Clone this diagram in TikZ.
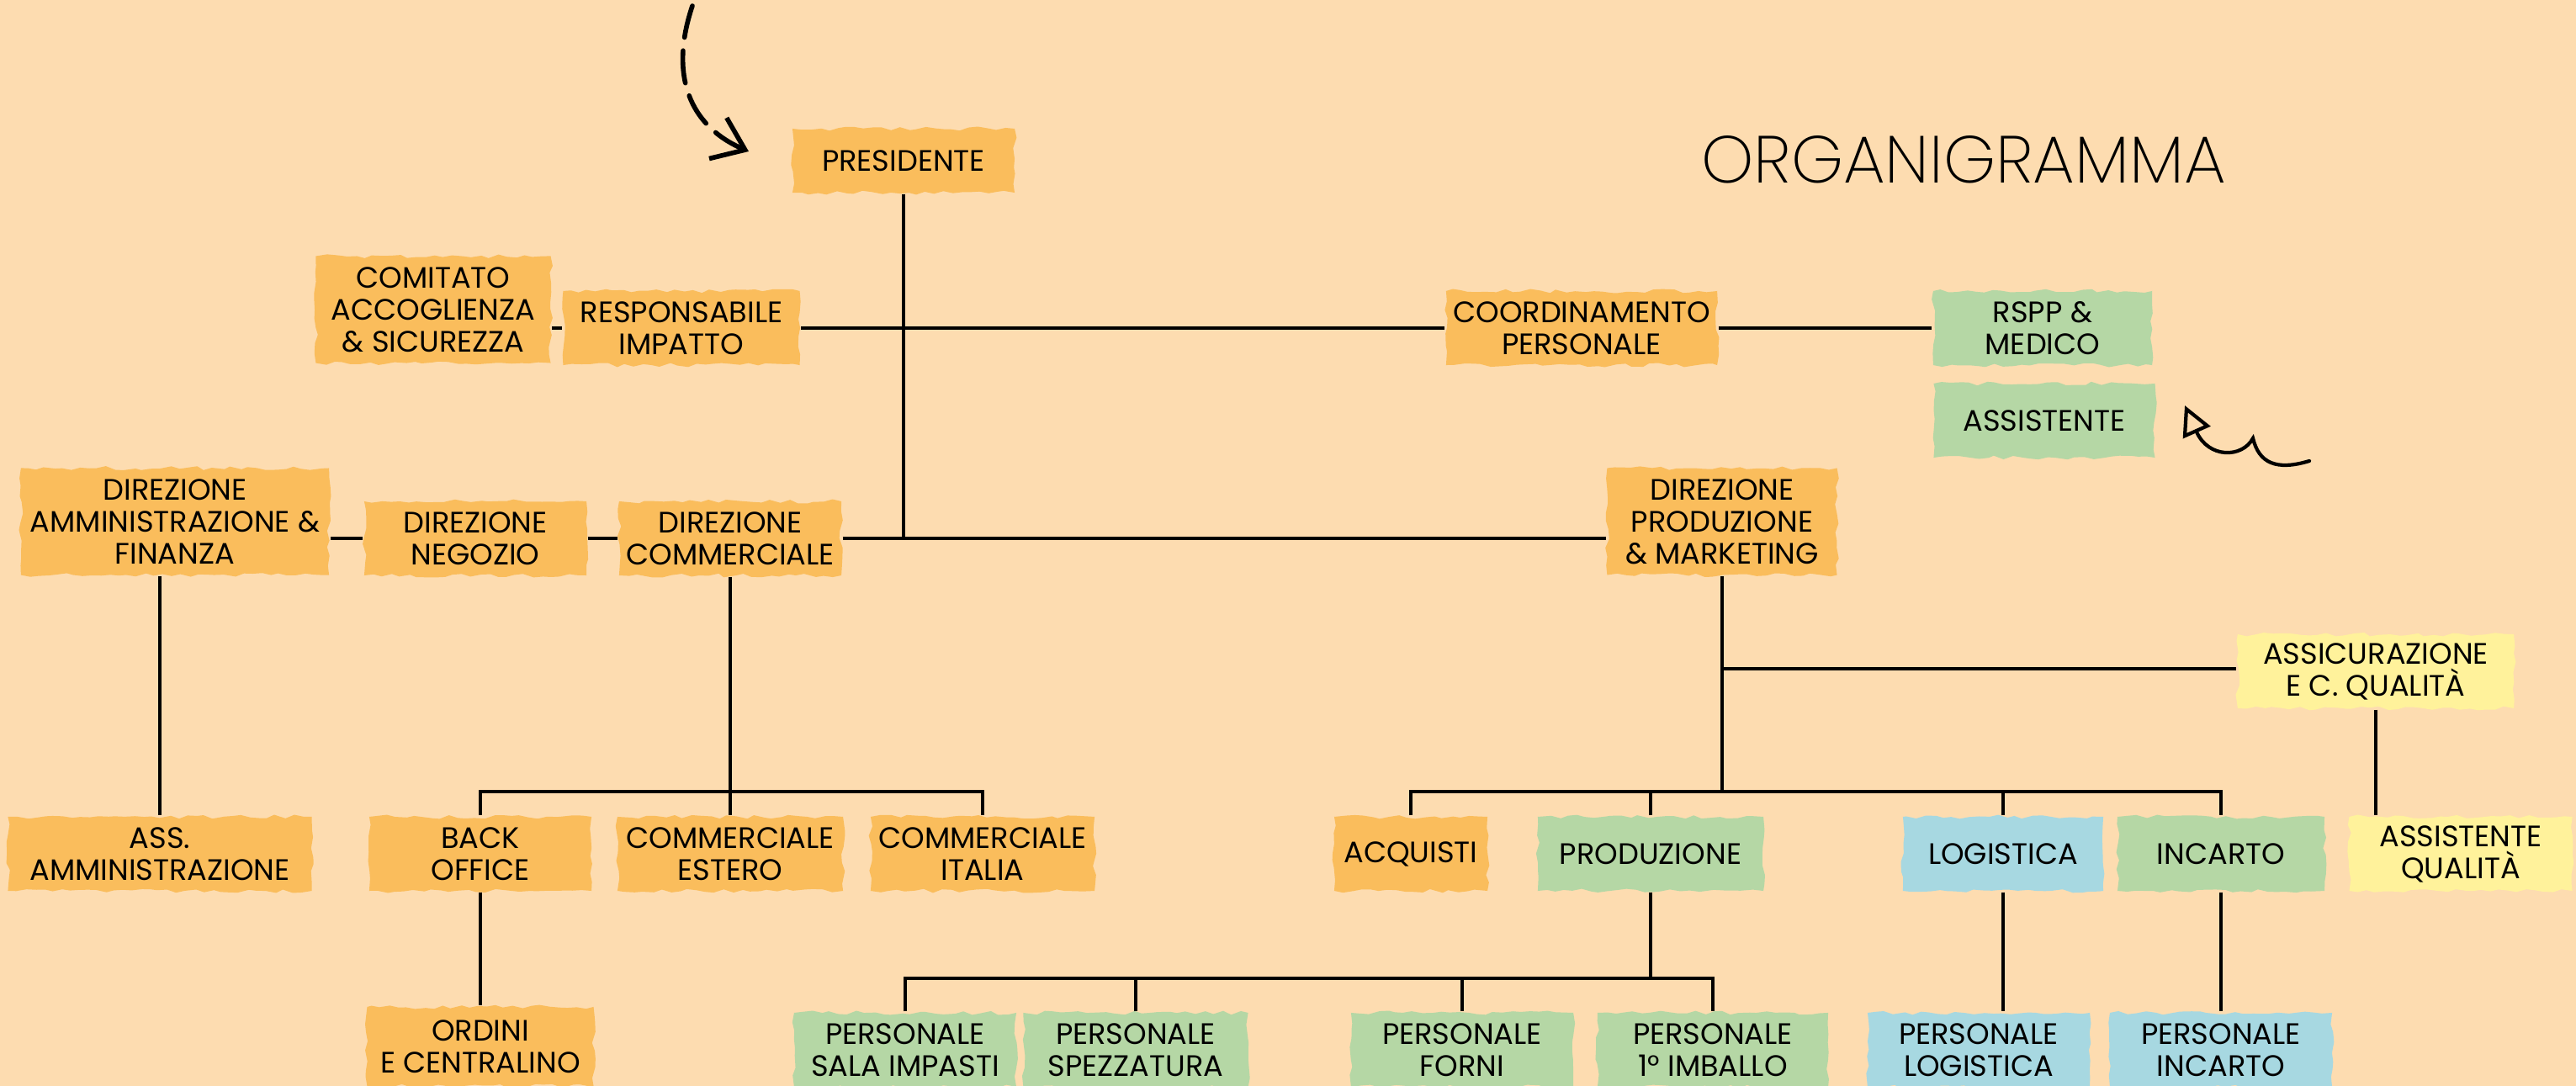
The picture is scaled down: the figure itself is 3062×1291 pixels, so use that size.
\documentclass[tikz,border=0pt]{standalone}
\usepackage{fontspec}
\setmainfont{Poppins}
\newfontfamily\titlefont{Poppins ExtraLight}
\usetikzlibrary{arrows.meta,decorations.pathmorphing}

\definecolor{paper}{HTML}{FDDCB0}
\definecolor{brushorange}{HTML}{FABD5C}
\definecolor{brushgreen}{HTML}{B5D7A5}
\definecolor{brushblue}{HTML}{A7D8E1}
\definecolor{brushyellow}{HTML}{FFF29B}

\begin{document}
\begin{tikzpicture}[x=0.01cm, y=-0.01cm, line width=0.9pt,
        brush/.style = {shape=rectangle, align=center, inner sep=0pt,
            minimum width=2.64cm, minimum height=0.88cm,
            font=\fontsize{10}{10.8}\selectfont,
            decorate, decoration={random steps, segment length=3pt, amplitude=0.7pt}},
        orangebox/.style = {brush, fill=brushorange},
        greenbox/.style = {brush, fill=brushgreen},
        bluebox/.style = {brush, fill=brushblue},
        yellowbox/.style = {brush, fill=brushyellow}]
    \pgfmathsetseed{5}
    \fill[paper] (0,0) rectangle (3062,1291);
    \useasboundingbox (0,0) rectangle (3062,1291);

    \node[font=\titlefont\fontsize{22.5}{22.5}\selectfont] (title) at (2334,190) {ORGANIGRAMMA};

    \node[orangebox, minimum height=0.76cm] (pres) at (1074,191) {PRESIDENTE};
    \node[orangebox, minimum width=2.79cm, minimum height=1.27cm] (comitato) at (515,368) {COMITATO\\ACCOGLIENZA\\\& SICUREZZA};
    \node[orangebox, minimum width=2.81cm] (resp) at (810,390) {RESPONSABILE\\IMPATTO};
    \node[orangebox, minimum width=3.22cm] (coord) at (1880,390) {COORDINAMENTO\\PERSONALE};
    \node[greenbox, minimum width=2.6cm] (rspp) at (2428,390) {RSPP \&\\MEDICO};
    \node[greenbox, minimum width=2.63cm] (assist) at (2430,500) {ASSISTENTE};

    \node[orangebox, minimum width=3.66cm, minimum height=1.27cm] (dirammin) at (208,620) {DIREZIONE\\AMMINISTRAZIONE \&\\FINANZA};
    \node[orangebox] (dirneg) at (565,640) {DIREZIONE\\NEGOZIO};
    \node[orangebox] (dircomm) at (868,640) {DIREZIONE\\COMMERCIALE};
    \node[orangebox, minimum width=2.73cm, minimum height=1.27cm] (dirprod) at (2047,620) {DIREZIONE\\PRODUZIONE\\\& MARKETING};
    \node[yellowbox, minimum width=3.28cm] (assic) at (2824,798) {ASSICURAZIONE\\E C. QUALITÀ};

    \node[orangebox, minimum width=3.61cm] (assamm) at (190,1015) {ASS.\\AMMINISTRAZIONE};
    \node[orangebox] (backoff) at (571,1015) {BACK\\OFFICE};
    \node[orangebox, minimum width=2.68cm] (commest) at (868,1015) {COMMERCIALE\\ESTERO};
    \node[orangebox, minimum width=2.66cm] (commita) at (1168,1015) {COMMERCIALE\\ITALIA};
    \node[orangebox, minimum width=1.82cm] (acquisti) at (1677,1015) {ACQUISTI};
    \node[greenbox, minimum width=2.68cm] (produz) at (1962,1015) {PRODUZIONE};
    \node[bluebox, minimum width=2.38cm] (logist) at (2381,1015) {LOGISTICA};
    \node[greenbox, minimum width=2.46cm] (incarto) at (2640,1015) {INCARTO};
    \node[yellowbox, minimum width=2.65cm] (assqual) at (2925,1015) {ASSISTENTE\\QUALITÀ};

    \node[orangebox, minimum width=2.69cm, minimum height=0.94cm] (ordini) at (571,1244) {ORDINI\\E CENTRALINO};
    \node[greenbox] (psala) at (1076,1248) {PERSONALE\\SALA IMPASTI};
    \node[greenbox, minimum width=2.67cm] (pspezz) at (1350,1248) {PERSONALE\\SPEZZATURA};
    \node[greenbox] (pforni) at (1738,1248) {PERSONALE\\FORNI};
    \node[greenbox, minimum width=2.74cm] (pimball) at (2036,1248) {PERSONALE\\1° IMBALLO};
    \node[bluebox] (plog) at (2352,1248) {PERSONALE\\LOGISTICA};
    \node[bluebox] (pinc) at (2640,1248) {PERSONALE\\INCARTO};

    \coordinate (commbus) at (868,941);
    \coordinate (qualbus) at (2047,795);
    \coordinate (prodbus) at (2047,941);
    \coordinate (persbus) at (1962,1163);

    \draw (pres.south) -- (pres.south |- dircomm);
    \draw (comitato.east |- resp) -- (resp);
    \draw (resp) -- (coord);
    \draw (coord) -- (rspp);
    \draw (dirammin.east |- dirneg) -- (dirneg);
    \draw (dirneg) -- (dircomm);
    \draw (dircomm) -- (dirprod.west |- dircomm);
    \draw (assamm.north |- dirammin.south) -- (assamm.north);
    \draw (dircomm) -- (commest);
    \draw (backoff.north) |- (commbus) -| (commita.north);
    \draw (backoff) -- (ordini);
    \draw (dirprod.south) -- (prodbus);
    \draw (qualbus) -- (assic.west |- qualbus);
    \draw (assic.south) -- (assic.south |- assqual.north);
    \draw (acquisti.north) |- (prodbus) -| (incarto.north);
    \draw (produz.north) -- (produz.north |- prodbus);
    \draw (logist.north) -- (logist.north |- prodbus);
    \draw (logist.south) -- (logist.south |- plog.north);
    \draw (incarto) -- (pinc);
    \draw (produz.south) -- (persbus);
    \draw (psala.north) |- (persbus) -| (pimball.north);
    \draw (pspezz.north) -- (pspezz.north |- persbus);
    \draw (pforni.north) -- (pforni.north |- persbus);

    \coordinate (dashstart) at (823,7);
    \coordinate (dashend) at (890,180);
    \draw[line width=1.6pt, line cap=round, dash pattern=on 11pt off 4.5pt,
        -{Straight Barb[length=10pt, width=15pt, line width=1.6pt]}]
        (dashstart) .. controls (795,90) and (820,150) .. (dashend);
    \coordinate (curlstart) at (2745,548);
    \coordinate (curlend) at (2597,482);
    \draw[line width=1.2pt, line cap=round,
        -{Triangle[open, length=10pt, width=10pt, line width=1.2pt]}]
        (curlstart) .. controls (2705,560) and (2685,550) .. (2678,521)
        .. controls (2665,545) and (2625,545) .. (curlend);
\end{tikzpicture}
\end{document}
